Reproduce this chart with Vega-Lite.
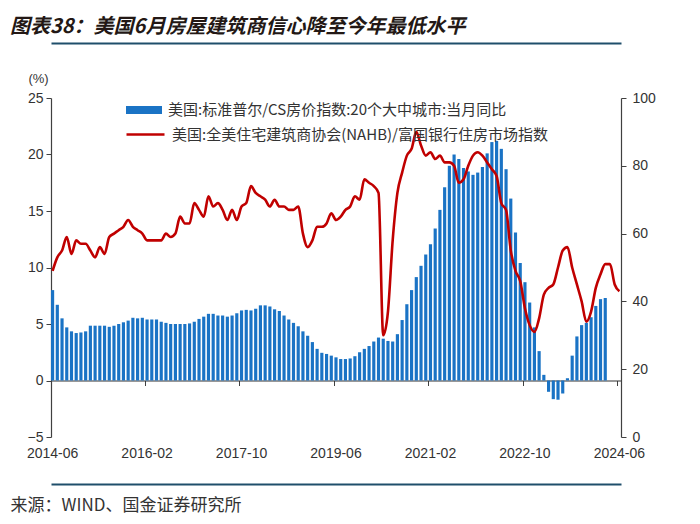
{
  "$schema": "https://vega.github.io/schema/vega-lite/v6.json",
  "width": 570,
  "height": 339,
  "autosize": "none",
  "padding": {"left": 51, "top": 98, "right": 79, "bottom": 87},
  "background": "white",
  "config": {
    "view": {"stroke": null},
    "font": "Liberation Sans",
    "axis": {"grid": false, "labelFont": "Liberation Sans", "labelFontSize": 14, "labelColor": "#333333", "domainColor": "#404040", "tickColor": "#404040"}
  },
  "title": {
    "text": "图表38：美国6月房屋建筑商信心降至今年最低水平",
    "anchor": "start",
    "frame": "group",
    "font": "Noto Sans CJK SC",
    "fontSize": 20,
    "fontWeight": "bold",
    "fontStyle": "italic",
    "color": "#231815",
    "dx": -41,
    "offset": 6
  },
  "data": {"values": [
    {"m":"2014-06","cs":8.0,"nahb":49},{"m":"2014-07","cs":6.7,"nahb":53},{"m":"2014-08","cs":5.5,"nahb":55},{"m":"2014-09","cs":4.7,"nahb":59},{"m":"2014-10","cs":4.35,"nahb":54},{"m":"2014-11","cs":4.2,"nahb":58},{"m":"2014-12","cs":4.25,"nahb":57},
    {"m":"2015-01","cs":4.35,"nahb":57},{"m":"2015-02","cs":4.85,"nahb":55},{"m":"2015-03","cs":4.85,"nahb":53},{"m":"2015-04","cs":4.85,"nahb":56},{"m":"2015-05","cs":4.85,"nahb":54},{"m":"2015-06","cs":4.75,"nahb":59},{"m":"2015-07","cs":4.85,"nahb":60},{"m":"2015-08","cs":5.0,"nahb":61},{"m":"2015-09","cs":5.15,"nahb":62},{"m":"2015-10","cs":5.3,"nahb":64},{"m":"2015-11","cs":5.55,"nahb":62},{"m":"2015-12","cs":5.5,"nahb":61},
    {"m":"2016-01","cs":5.55,"nahb":60},{"m":"2016-02","cs":5.4,"nahb":58},{"m":"2016-03","cs":5.4,"nahb":58},{"m":"2016-04","cs":5.4,"nahb":58},{"m":"2016-05","cs":5.2,"nahb":58},{"m":"2016-06","cs":5.1,"nahb":60},{"m":"2016-07","cs":5.0,"nahb":59},{"m":"2016-08","cs":5.0,"nahb":60},{"m":"2016-09","cs":5.0,"nahb":65},{"m":"2016-10","cs":5.0,"nahb":63},{"m":"2016-11","cs":5.05,"nahb":63},{"m":"2016-12","cs":5.2,"nahb":69},
    {"m":"2017-01","cs":5.45,"nahb":67},{"m":"2017-02","cs":5.65,"nahb":65},{"m":"2017-03","cs":5.9,"nahb":71},{"m":"2017-04","cs":5.9,"nahb":68},{"m":"2017-05","cs":5.75,"nahb":69},{"m":"2017-06","cs":5.75,"nahb":67},{"m":"2017-07","cs":5.65,"nahb":64},{"m":"2017-08","cs":5.75,"nahb":67},{"m":"2017-09","cs":5.95,"nahb":64},{"m":"2017-10","cs":6.2,"nahb":68},{"m":"2017-11","cs":6.25,"nahb":69},{"m":"2017-12","cs":6.2,"nahb":74},
    {"m":"2018-01","cs":6.35,"nahb":72},{"m":"2018-02","cs":6.65,"nahb":71},{"m":"2018-03","cs":6.65,"nahb":70},{"m":"2018-04","cs":6.55,"nahb":68},{"m":"2018-05","cs":6.3,"nahb":70},{"m":"2018-06","cs":6.15,"nahb":68},{"m":"2018-07","cs":5.75,"nahb":68},{"m":"2018-08","cs":5.4,"nahb":67},{"m":"2018-09","cs":5.1,"nahb":67},{"m":"2018-10","cs":4.8,"nahb":68},{"m":"2018-11","cs":4.35,"nahb":60},{"m":"2018-12","cs":3.95,"nahb":56},
    {"m":"2019-01","cs":3.4,"nahb":58},{"m":"2019-02","cs":2.8,"nahb":62},{"m":"2019-03","cs":2.45,"nahb":62},{"m":"2019-04","cs":2.35,"nahb":63},{"m":"2019-05","cs":2.2,"nahb":66},{"m":"2019-06","cs":2.05,"nahb":64},{"m":"2019-07","cs":1.9,"nahb":65},{"m":"2019-08","cs":1.9,"nahb":67},{"m":"2019-09","cs":1.95,"nahb":68},{"m":"2019-10","cs":2.15,"nahb":71},{"m":"2019-11","cs":2.5,"nahb":70},{"m":"2019-12","cs":2.8,"nahb":76},
    {"m":"2020-01","cs":3.05,"nahb":75},{"m":"2020-02","cs":3.45,"nahb":74},{"m":"2020-03","cs":3.8,"nahb":72},{"m":"2020-04","cs":3.7,"nahb":30},{"m":"2020-05","cs":3.5,"nahb":37},{"m":"2020-06","cs":3.45,"nahb":58},{"m":"2020-07","cs":4.1,"nahb":72},{"m":"2020-08","cs":5.35,"nahb":78},{"m":"2020-09","cs":6.75,"nahb":83},{"m":"2020-10","cs":8.0,"nahb":85},{"m":"2020-11","cs":9.15,"nahb":90},{"m":"2020-12","cs":10.15,"nahb":86},
    {"m":"2021-01","cs":11.15,"nahb":83},{"m":"2021-02","cs":12.05,"nahb":84},{"m":"2021-03","cs":13.45,"nahb":82},{"m":"2021-04","cs":15.1,"nahb":83},{"m":"2021-05","cs":17.1,"nahb":81},{"m":"2021-06","cs":19.0,"nahb":81},{"m":"2021-07","cs":20.0,"nahb":80},{"m":"2021-08","cs":19.6,"nahb":75},{"m":"2021-09","cs":18.8,"nahb":76},{"m":"2021-10","cs":18.5,"nahb":80},{"m":"2021-11","cs":18.2,"nahb":83},{"m":"2021-12","cs":18.4,"nahb":84},
    {"m":"2022-01","cs":18.9,"nahb":83},{"m":"2022-02","cs":20.1,"nahb":81},{"m":"2022-03","cs":21.1,"nahb":79},{"m":"2022-04","cs":21.2,"nahb":77},{"m":"2022-05","cs":20.5,"nahb":69},{"m":"2022-06","cs":18.7,"nahb":67},{"m":"2022-07","cs":16.1,"nahb":55},{"m":"2022-08","cs":13.1,"nahb":49},{"m":"2022-09","cs":10.4,"nahb":46},{"m":"2022-10","cs":8.7,"nahb":38},{"m":"2022-11","cs":6.9,"nahb":33},{"m":"2022-12","cs":4.7,"nahb":31},
    {"m":"2023-01","cs":2.6,"nahb":35},{"m":"2023-02","cs":0.5,"nahb":42},{"m":"2023-03","cs":-1.0,"nahb":44},{"m":"2023-04","cs":-1.65,"nahb":45},{"m":"2023-05","cs":-1.7,"nahb":50},{"m":"2023-06","cs":-1.15,"nahb":55},{"m":"2023-07","cs":0.2,"nahb":56},{"m":"2023-08","cs":2.2,"nahb":50},{"m":"2023-09","cs":3.9,"nahb":45},{"m":"2023-10","cs":4.9,"nahb":40},{"m":"2023-11","cs":5.1,"nahb":34},{"m":"2023-12","cs":5.6,"nahb":37},
    {"m":"2024-01","cs":6.6,"nahb":44},{"m":"2024-02","cs":7.2,"nahb":48},{"m":"2024-03","cs":7.3,"nahb":51},{"m":"2024-04","nahb":51},{"m":"2024-05","nahb":45},{"m":"2024-06","nahb":43}
  ]},
  "layer": [
    {
      "mark": {"type": "bar"},
      "encoding": {
        "x": {"field": "m", "type": "ordinal", "scale": {"paddingInner": 0.33, "paddingOuter": 0},
          "axis": {"orient": "bottom", "values": ["2014-06","2016-02","2017-10","2019-06","2021-02","2022-10","2024-06"], "bandPosition": 0, "domain": false, "ticks": false, "tickSize": 0, "labelAngle": 0, "labelPadding": 9, "labelBaseline": "top", "title": null}},
        "y": {"field": "cs", "type": "quantitative", "scale": {"domain": [-5, 25], "nice": false, "zero": false},
          "axis": {"orient": "left", "values": [-5,0,5,10,15,20,25], "title": "(%)", "titleAngle": 0, "titleX": -13, "titleY": -20, "titleAlign": "center", "titleBaseline": "middle", "titleFontWeight": "normal", "titleFont": "Liberation Sans", "titleFontSize": 13, "titleColor": "#333333", "tickSize": 5, "labelPadding": 3, "domainWidth": 1.2}},
        "color": {"datum": "美国:标准普尔/CS房价指数:20个大中城市:当月同比", "scale": {"range": ["#1a73c5"]},
          "legend": {"orient": "none", "legendX": 75, "legendY": -6, "title": null, "symbolType": "M-1,-0.22H1V0.22H-1Z", "symbolSize": 1296, "symbolStrokeWidth": 0, "labelFont": "Noto Sans CJK SC", "labelFontSize": 15, "labelColor": "#333333", "labelOffset": 6, "labelLimit": 600, "padding": 0}}
      }
    },
    {
      "mark": {"type": "line", "interpolate": "monotone", "strokeWidth": 2.6},
      "encoding": {
        "x": {"field": "m", "type": "ordinal", "axis": {"orient": "top", "offset": 55, "domainColor": "#1f4e6b", "domainWidth": 2, "ticks": false, "labels": false, "title": null}},
        "y": {"field": "nahb", "type": "quantitative", "scale": {"domain": [0, 100], "nice": false},
          "axis": {"orient": "right", "values": [0,20,40,60,80,100], "title": null, "tickSize": 5, "labelPadding": 6, "domainWidth": 1.2}},
        "stroke": {"datum": "美国:全美住宅建筑商协会(NAHB)/富国银行住房市场指数", "scale": {"range": ["#C00000"]},
          "legend": {"orient": "none", "legendX": 74, "legendY": 16, "title": null, "symbolType": "stroke", "symbolSize": 1444, "symbolStrokeWidth": 2.6, "labelFont": "Noto Sans CJK SC", "labelFontSize": 15, "labelColor": "#333333", "labelOffset": 6, "labelLimit": 600, "padding": 0}}
      }
    },
    {
      "mark": {"type": "rule", "opacity": 0},
      "encoding": {
        "x": {"field": "m", "type": "ordinal", "axis": {"orient": "bottom", "offset": -56.5, "values": ["2014-06","2016-02","2017-10","2019-06","2021-02","2022-10","2024-06"], "bandPosition": 0, "labels": false, "tickSize": 5, "domainColor": "#333333", "domainWidth": 1.2, "title": null}}
      }
    },
    {
      "mark": {"type": "rule", "opacity": 0},
      "encoding": {
        "x": {"field": "m", "type": "ordinal", "axis": {"orient": "bottom", "offset": 47, "ticks": false, "labels": false, "domainColor": "#1f4e6b", "domainWidth": 2,
          "title": "来源：WIND、国金证券研究所", "titleX": -41, "titleY": 21, "titleAlign": "left", "titleAnchor": "start", "titleBaseline": "middle", "titleFont": "Noto Sans CJK SC", "titleFontSize": 17, "titleFontWeight": "normal", "titleColor": "#333333"}}
      }
    }
  ],
  "resolve": {"scale": {"y": "independent"}, "axis": {"x": "independent"}}
}
